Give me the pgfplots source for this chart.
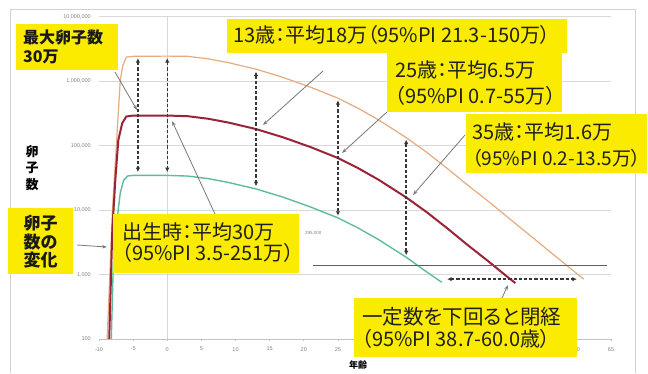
\documentclass[border=0pt]{standalone}
\usepackage{pgfplots}
\pgfplotsset{compat=1.18}
\usetikzlibrary{arrows.meta}
\usepackage{fontspec}
\setmainfont{Liberation Sans}
\newfontfamily\jp[RawFeature=+palt]{Noto Sans CJK JP}
\definecolor{cOr}{RGB}{228,172,128}
\definecolor{cRd}{RGB}{155,35,55}
\definecolor{cGn}{RGB}{95,188,155}
\definecolor{cYl}{RGB}{250,235,0}
\definecolor{cGrid}{RGB}{217,217,217}
\definecolor{cAxis}{RGB}{195,195,195}
\definecolor{cTick}{RGB}{130,130,130}
\definecolor{cArr}{RGB}{55,55,55}
\definecolor{cPtr}{RGB}{120,120,120}
\definecolor{cThr}{RGB}{95,95,95}
\definecolor{cFrame}{RGB}{210,210,210}
\tikzset{
  darr/.style={cArr, line width=1.5pt, dash pattern=on 3.2pt off 2pt,
    {Latex[length=4.5pt,width=4.5pt]}-{Latex[length=4.5pt,width=4.5pt]}},
  ptr/.style={cPtr, line width=0.8pt, -{Stealth[length=5pt,width=3.5pt]}},
  ybox/.style={fill=cYl, draw=none},
  t20/.style={anchor=base west, inner sep=0pt, text=black!88, font=\jp\fontsize{20}{22}\selectfont},
}
\begin{document}
\begin{tikzpicture}
\useasboundingbox (0pt,0pt) rectangle (648pt,373pt);
\fill[white] (0pt,0pt) rectangle (648pt,373pt);
\draw[cFrame, line width=1pt] (10pt,0pt) -- (10pt,363pt) -- (635pt,363pt) -- (635pt,0pt);
\begin{axis}[
  at={(99pt,34pt)}, anchor=south west,
  width=512pt, height=322pt, scale only axis,
  xmin=-10, xmax=65, ymode=log, log basis y=10, ymin=100, ymax=1e7,
  axis line style={draw=none},
  ytick={100,1000,10000,100000,1000000,10000000},
  yticklabels={100,{1,000},{10,000},{100,000},{1,000,000},{10,000,000}},
  xtick={-10,-5,...,65},
  xticklabels={-10,-5,0,5,10,15,20,25,,,,,,,60,65},
  ymajorgrids, grid style={cGrid, line width=1pt},
  /pgf/number format/assume math mode=true,
  tick label style={font=\fontsize{5.5}{6}\selectfont, text=cTick},
  yticklabel style={anchor=east, inner sep=0pt, xshift=-6pt},
  xticklabel style={anchor=north, inner sep=0pt, yshift=-6pt},
  ytick style={draw=none},
  xtick style={draw=cAxis, line width=0.8pt},
  tick align=outside, major tick length=2pt, xtick pos=bottom,
]
\draw[cGrid, line width=1pt] (axis cs:0,100) -- (axis cs:0,1e7);
\draw[cAxis, line width=1pt] (axis cs:-10,100) -- (axis cs:65,100);
\addplot[cOr, line width=1.2pt] coordinates {
(-8.8,100) (-8.05,9120) (-7.32,178000) (-6.88,1050000) (-6.5,1780000) (-6.0,2380000) (-5,2450000) (0,2470000) (3,2450000) (6,2240000) (9,1950000) (13,1550000) (17,1150000) (21,812000) (25,549000) (28,380000) (31,251000) (35,134000) (38,79300) (41,44600) (44,24500) (47,13800) (50,7570) (53,4170) (56,2290) (59,1260) (61,850)};
\addplot[cRd, line width=2pt] coordinates {
(-8.5,100) (-8.05,4900) (-7.61,29500) (-7.17,123000) (-6.6,224000) (-6.0,285000) (-5,295000) (0,295000) (3,288000) (6,263000) (9,229000) (13,182000) (17,135000) (21,95500) (25,64600) (28,44700) (31,29500) (35,15800) (38,9330) (41,5250) (44,2880) (47,1620) (50,890) (51,740)};
\addplot[cGn, line width=1.4pt] coordinates {
(-8.2,100) (-7.9,1510) (-7.32,7760) (-6.88,18600) (-6.4,29000) (-5.8,34000) (-5,34700) (0,34700) (3,33900) (6,30900) (9,26900) (13,21400) (17,15900) (21,11200) (25,7600) (28,5260) (31,3470) (35,1860) (38,1100) (40.2,760)};
\addplot[cThr, line width=1.2pt] coordinates {(21.4,1400) (64.4,1400)};
\draw[darr] (axis cs:-4.3,2.3e6) -- (axis cs:-4.3,3.9e4);
\draw[darr] (axis cs:0,2.3e6) -- (axis cs:0,3.9e4);
\draw[darr] (axis cs:13,1.42e6) -- (axis cs:13,2.35e4);
\draw[darr] (axis cs:25,5.1e5) -- (axis cs:25,8.2e3);
\draw[darr] (axis cs:35,1.25e5) -- (axis cs:35,2.0e3);
\draw[darr] (axis cs:41,850) -- (axis cs:60,850);
\end{axis}
% small label
\node[anchor=west, inner sep=0pt, text=cTick, font=\fontsize{4.5}{5}\selectfont] at (305pt,140pt) {295,000};
% axis labels
\node[anchor=base, inner sep=0pt, font=\jp\bfseries\fontsize{13}{13}\selectfont] at (32pt,216.2pt) {卵};
\node[anchor=base, inner sep=0pt, font=\jp\bfseries\fontsize{13}{13}\selectfont] at (32pt,200.2pt) {子};
\node[anchor=base, inner sep=0pt, font=\jp\bfseries\fontsize{13}{13}\selectfont] at (32pt,183.2pt) {数};
\node[anchor=base, inner sep=0pt, font=\jp\bfseries\fontsize{9}{9}\selectfont] at (358pt,4.7pt) {年齢};
% pointer lines
\draw[ptr] (115pt,301pt) -- (137pt,263pt);
\draw[ptr] (323pt,302pt) -- (263pt,248pt);
\draw[ptr] (387pt,261pt) -- (342pt,220pt);
\draw[ptr] (465pt,238pt) -- (413pt,178pt);
\draw[ptr] (215pt,159pt) -- (172pt,252pt);
\draw[ptr] (77pt,128pt) -- (107pt,126pt);
\draw[ptr] (502pt,75pt) -- (508pt,88pt);
% yellow boxes
\fill[ybox] (16pt,303pt) rectangle (118pt,349pt);
\fill[ybox] (8pt,99pt) rectangle (73pt,165pt);
\fill[ybox] (113pt,100pt) rectangle (299pt,159pt);
\fill[ybox] (227pt,320pt) rectangle (567pt,354pt);
\fill[ybox] (387pt,261pt) rectangle (562pt,320pt);
\fill[ybox] (466pt,200pt) rectangle (647pt,259pt);
\fill[ybox] (354pt,16pt) rectangle (577pt,75pt);
% bold labels
\node[anchor=base west, inner sep=0pt, text=black!90, font=\jp\bfseries\fontsize{16}{16}\selectfont] at (23pt,329.1pt) {最大卵子数};
\node[anchor=base west, inner sep=0pt, text=black!90, font=\jp\bfseries\fontsize{16}{16}\selectfont] at (23pt,310.1pt) {30万};
\node[anchor=base, inner sep=0pt, text=black!90, font=\jp\bfseries\fontsize{17}{17}\selectfont] at (40.5pt,143.7pt) {卵子};
\node[anchor=base, inner sep=0pt, text=black!90, font=\jp\bfseries\fontsize{17}{17}\selectfont] at (40.5pt,124.7pt) {数の};
\node[anchor=base, inner sep=0pt, text=black!90, font=\jp\bfseries\fontsize{17}{17}\selectfont] at (40.5pt,106.7pt) {変化};
% annotation texts
\node[t20] at (122pt,133.6pt) {出生時：平均30万};
\node[t20] at (122pt,112.6pt) {（95\%PI 3.5-251万）};
\node[t20] at (233pt,330.6pt) {13歳：平均18万（95\%PI 21.3-150万）};
\node[t20] at (395pt,295.6pt) {25歳：平均6.5万};
\node[t20] at (395pt,269.6pt) {（95\%PI 0.7-55万）};
\node[t20] at (472pt,233.6pt) {35歳：平均1.6万};
\node[t20, font=\jp\fontsize{19}{22}\selectfont] at (472pt,207.6pt) {（95\%PI 0.2-13.5万）};
\node[t20, font=\jp\fontsize{20.5}{22}\selectfont] at (362pt,48.4pt) {一定数を下回ると閉経};
\node[t20] at (362pt,26.6pt) {（95\%PI 38.7-60.0歳）};
\end{tikzpicture}
\end{document}
